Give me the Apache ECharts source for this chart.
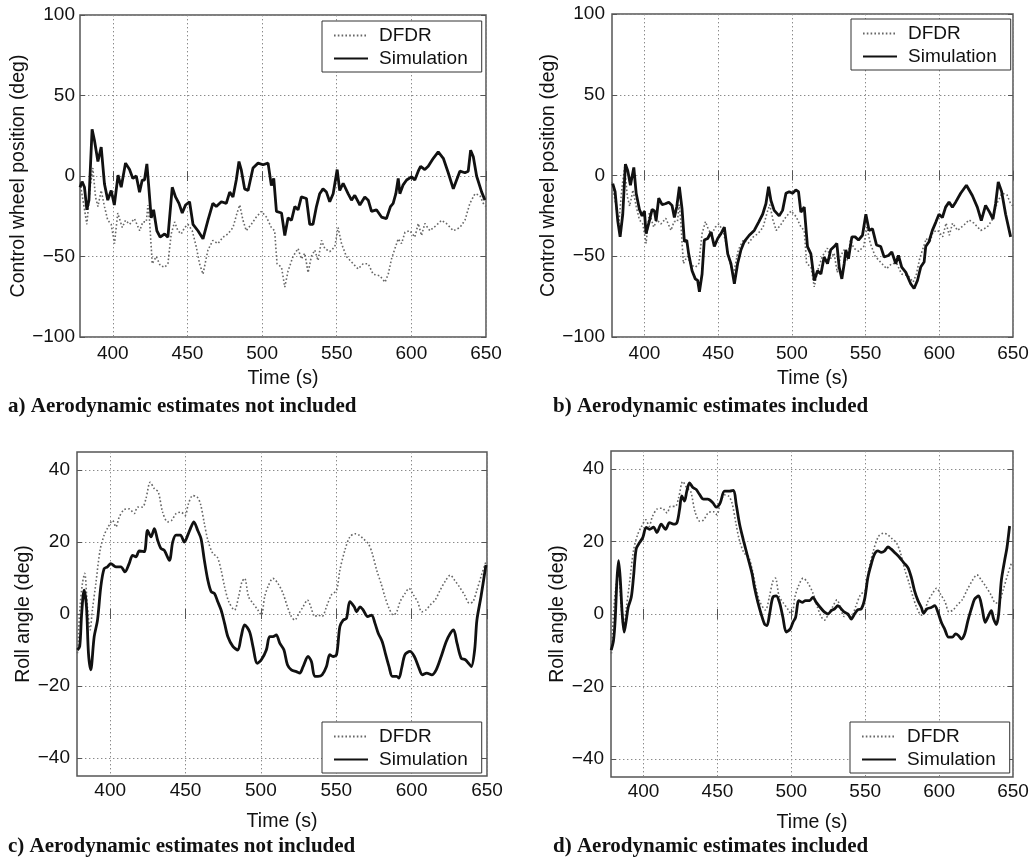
<!DOCTYPE html>
<html>
<head>
<meta charset="utf-8">
<script src="https://cdn.jsdelivr.net/npm/echarts@6/dist/echarts.min.js"></script>
<style>
    html, body { margin: 0; background: #fff; }
    #chart { width: 1036px; height: 861px; }
</style>
</head>
<body>
<div id="chart"></div>
<script>
    // tick values
    const timeTicks = [400, 450, 500, 550, 600, 650]
    const wheelTicks = [-100, -50, 0, 50, 100]
    const rollTicks = [-40, -20, 0, 20, 40]
    const seriesNames = ['DFDR', 'Simulation']
    const captions = [
        'a) Aerodynamic estimates not included',
        'b) Aerodynamic estimates included',
        'c) Aerodynamic estimates not included',
        'd) Aerodynamic estimates included'
    ]

    // control wheel position [time s, deg]
    const wheelDfdr = [[378, -4], [380, -15], [382.6, -30], [384.8, -7], [386.6, 5], [388.4, -13], [390, -19], [392.2, -9],
        [394.4, -19], [396.6, -27.5], [398.9, -30], [401.1, -42], [403.3, -23], [406.3, -32], [408.5, -27.5], [411.2, -30],
        [414.5, -26.5], [418, -34], [420.1, -28.5], [422.4, -28.5], [423.5, -18], [424.6, -27.5], [426.4, -54.5], [429.1, -50],
        [431.7, -55.6], [434.7, -56.7], [436.9, -54.5], [439.1, -36], [441.4, -28.5], [443.6, -34], [445.8, -36], [448.1, -32],
        [450.3, -30], [453.2, -34], [455.9, -44], [458.1, -54.5], [460.4, -61], [463.7, -46], [467, -40], [470.4, -42],
        [473.8, -38], [477.1, -36], [480.5, -32], [483.2, -23], [485, -18], [487.2, -27.5], [489.4, -34], [492.8, -30],
        [496.1, -25.5], [499.5, -22], [502.9, -25.5], [506.2, -32], [508.4, -34], [510, -54.5], [513, -56.7], [515.2, -69],
        [517.4, -59], [520.7, -50], [524.1, -45], [526.3, -51.5], [528.6, -48], [530.8, -60], [533, -50], [535.3, -46],
        [537.5, -52.5], [539.8, -40], [542, -45], [545.3, -47], [548.7, -44], [550.9, -32], [553.2, -42], [556.5, -50],
        [561, -54.5], [564.3, -57.7], [567.7, -54.5], [571.1, -54.5], [574.4, -61], [578.9, -62], [582.3, -66], [584.5, -61],
        [586.7, -51.5], [589, -45], [591.2, -39], [593.4, -42], [595.7, -35], [599, -34], [602.3, -38], [604.6, -29.5],
        [606.8, -37], [609, -29.5], [612.4, -34], [616.9, -30.5], [620.2, -27.5], [623.5, -29.5], [628.1, -34], [632.5, -32],
        [635.9, -27.5], [639.2, -17], [642.6, -11], [645.9, -12], [648.2, -17], [650, -19]]

    const wheelSimNoAero = [[378, -7], [379.4, -3.5], [381, -7], [382.6, -21], [384, -15], [386.1, 29], [387.7, 22], [390, 9],
        [392.2, 18], [394.4, -5], [396.6, -15], [398.9, -9], [401, -18], [403.5, 0.5], [405.6, -7], [408.5, 8], [411.2, 4],
        [413.4, -1.5], [415.7, 0], [417.9, -10], [419.7, -2.5], [421.2, -2.5], [422.8, 7.5], [424.1, -7], [425.7, -26],
        [427.3, -21], [429.5, -34], [431.7, -38], [434.7, -36], [436.9, -38], [439.8, -7], [442, -13], [444.3, -17],
        [446.5, -23], [448.7, -18], [451.4, -16], [453.7, -30], [457, -34], [460.4, -39], [463.7, -27.5], [467, -17],
        [469.3, -19], [472.7, -16], [476, -17], [478.3, -10], [480.5, -13], [482.7, -2.5], [484.5, 9], [486, 4], [488.3, -8],
        [490.6, -9], [493.9, 5], [497.3, 8], [500.6, 7], [504, 8], [506.2, -6], [507.8, -1.5], [509.6, -22], [513, -23],
        [515.2, -37], [517.4, -26], [519.7, -27.5], [521.9, -19], [524.1, -21], [526.3, -13], [529.7, -14], [531.9, -30],
        [534.1, -30], [536.4, -19], [538.6, -11], [540.8, -8], [543.1, -10], [545.3, -16], [547.6, -11], [550.3, 4], [552, -9],
        [554.3, -4.5], [557.6, -11], [559.9, -15], [562.1, -12], [565.5, -18], [568.8, -13], [571.1, -15], [573.3, -22],
        [576.6, -21], [580, -25.5], [583.3, -26.5], [586, -19], [587.8, -17], [589.6, -11], [591.2, -1.5], [592.3, -11],
        [594.5, -5.5], [596.8, -2.5], [600.1, -0.5], [602.3, -2.5], [604.6, 3], [606.2, 6], [609, 4], [611.3, 6], [614.7, 11],
        [618, 15], [621.4, 11], [624.7, 2], [628.1, -8], [630.3, -2.5], [632.5, 3], [635.9, 2], [638.1, 3], [639.7, 16],
        [641.5, 12], [643.7, 0], [647.1, -10], [649.3, -15]]

    const wheelSimAero = [[378.5, -5], [380.1, -10], [381.9, -28], [383.5, -38], [385.3, -24], [387.1, 7], [388.7, 3],
        [390.5, -6], [392.8, 5], [394.4, -11], [396.6, -21], [398.4, -25], [400, -22], [401.1, -36], [403.4, -28], [405.2, -21],
        [406.8, -22], [407.9, -28], [409.7, -14], [412, -18], [414.2, -17.5], [416.5, -16.5], [418.7, -18.5], [420.3, -26],
        [421.9, -19.5], [423.7, -7], [425.5, -20.6], [427.1, -41], [428.7, -40], [430, -48.5], [432.3, -59], [434.5, -64],
        [436.1, -65], [437.3, -72], [439.1, -61], [440.6, -40], [442.9, -39], [445.2, -35], [447.4, -44], [449.7, -39],
        [451.9, -36], [454.2, -32], [456.5, -48.5], [458.7, -54.6], [461, -67], [463.2, -54.6], [465.5, -46], [467.7, -41],
        [471.1, -37], [474.5, -34], [477.4, -29], [480.2, -24], [482.4, -17.5], [484.2, -7], [485.8, -15.5], [488, -21.6],
        [491.4, -25], [493.7, -21.6], [496, -11], [498.2, -10], [500.5, -11], [502.7, -9], [504.5, -10], [506.1, -22.7],
        [508.4, -19.6], [510.6, -44], [512.9, -48.5], [515.2, -65], [517.4, -59], [519.7, -61], [521.9, -50.5], [524.2, -54.6],
        [526.4, -46], [528.7, -44], [530.5, -42], [532.1, -56.7], [533.9, -64], [535.5, -54.6], [536.6, -46], [538.4, -51.5],
        [540.7, -38], [542.9, -38], [545.2, -40], [547.9, -37], [550.2, -24], [552.4, -34], [554.7, -33], [557.4, -43],
        [560.3, -44], [562.6, -50.5], [565.5, -49.5], [567.8, -47.4], [570.5, -54.6], [572.3, -49.5], [574.5, -56.7],
        [577.3, -60], [580.6, -67], [582.9, -70], [585.2, -65], [587.4, -56.7], [589.7, -53.6], [590.8, -44], [593, -41],
        [595.3, -34], [597.6, -29], [599.8, -24], [602.1, -26], [604.3, -19.6], [606.6, -16.5], [608.9, -19.6], [611.1, -16.5],
        [614.5, -11], [618.4, -6], [622.4, -12.4], [625.8, -19.6], [628.5, -28], [631.4, -18.5], [634.1, -22.7], [636.4, -27],
        [638.2, -17.5], [640, -4], [642.3, -10], [645, -24], [648.4, -38]]

    // roll angle [time s, deg]
    const rollDfdr = [[378.3, -10.9], [380, 2], [381.6, 8.5], [383.1, 11.3], [384.9, 2], [386.7, -4.4], [388.2, 1.1],
        [390.5, 8.5], [393.3, 17.7], [396, 21.9], [398.7, 24.2], [401.6, 26], [403.8, 24.2], [406, 26.9], [409.3, 29],
        [412.6, 29.2], [416, 27.9], [418.2, 29.7], [421.5, 29.7], [423.7, 32], [426.6, 36.6], [429.3, 34.8], [431.9, 33.9],
        [434.8, 28.3], [438.1, 25.6], [440.8, 26], [443.7, 27.9], [447, 28.3], [449.7, 27.4], [451.9, 30.6], [454.8, 32.9],
        [457.7, 32.5], [459.9, 30.6], [462.5, 25.1], [464.8, 20.5], [468.1, 16.8], [471, 15.9], [473.6, 12.2], [475.9, 7.6],
        [478.7, 3.4], [482.5, 1.1], [485.2, 4.8], [487.4, 8.9], [489.2, 9.9], [491.8, 4.8], [494.7, 3], [498, 1.1],
        [500.3, -0.3], [502.5, 4.8], [504.7, 7.6], [508, 9.9], [511.3, 8.5], [514.7, 5.7], [517.6, 2], [520.2, -0.7],
        [522.4, -1.7], [525.3, 0.2], [528, 2], [530.9, 3.9], [533.1, 2], [535.7, -0.7], [537.9, -0.3], [540.6, -0.7],
        [543.5, 2], [546.8, 5.3], [550.2, 6.6], [552.4, 12.2], [555.7, 17.7], [559, 21.4], [562.4, 22.3], [565.2, 21.9],
        [567.9, 20.9], [571.2, 19.6], [573.9, 16.8], [576.8, 12.2], [579.7, 8.5], [582.3, 4.8], [585, 1.6], [587.9, -0.3],
        [590.1, 0.6], [592.3, 3.4], [595.6, 5.7], [598.3, 7.1], [601.2, 5.3], [604, 3.4], [606.7, 0.6], [609.4, 1.1],
        [612.3, 2.5], [615.6, 3.9], [618.9, 6.6], [622.7, 9.4], [625.6, 10.8], [628.5, 9.4], [631.6, 7.6], [635.1, 5.3],
        [638.3, 3], [640.7, 3.4], [643.3, 6.6], [646.7, 11.3], [649.3, 14.5]]

    const rollSimNoAero = [[378.3, -10], [379.8, -9], [381.1, 0.2], [382.7, 6.6], [384.3, 2], [385.6, -10.9], [387.1, -15.5],
        [389.4, -6.3], [391.6, -1.7], [393.8, 7.6], [396, 12.6], [398.2, 13.1], [400.4, 14], [403.8, 13.1], [407.1, 13.1],
        [409.8, 11.7], [412.6, 14], [414.9, 16.3], [417.1, 15.9], [419.3, 17.5], [422.6, 17.3], [424.8, 23.2], [427.1, 21.4],
        [429.3, 23.7], [431.5, 20.5], [433.7, 18.2], [435.9, 17.7], [439.3, 14.9], [441.5, 20], [443.7, 21.9], [446.6, 21.9],
        [449.2, 20], [451.5, 21.9], [453.7, 24.2], [455.5, 25.6], [458.1, 23.2], [460.3, 20.9], [462.5, 14.9], [464.8, 9.4],
        [467, 6.2], [469.2, 5.7], [471.4, 3.4], [473.6, 1.1], [475.9, -2.6], [478.1, -6.3], [481.4, -9], [484.7, -10],
        [486.9, -6.3], [489.2, -3], [492.5, -4.9], [494.7, -9], [497.6, -13.7], [500.3, -12.7], [503.6, -10], [505.8, -6.3],
        [508, -6.3], [510.2, -5.8], [512.5, -8.1], [515.3, -10], [517.6, -14.1], [520.2, -15.5], [523.5, -16], [525.8, -16.4],
        [528, -14.6], [531.3, -11.8], [533.5, -13.2], [535.7, -17.3], [537.9, -17.3], [540.6, -16.9], [543.5, -14.6],
        [545.7, -11.3], [547.9, -11.8], [550.2, -11.3], [552.4, -3.5], [554.6, -1.7], [556.8, -1.2], [559, 3.4], [561.9, 2],
        [563.5, 0.6], [565.7, 2], [567.9, 1.1], [570.8, -0.7], [573.5, -0.3], [575.7, -2.6], [577.9, -5.4], [580.5, -7.7],
        [582.8, -11.3], [585, -14.6], [587.2, -17.3], [590.1, -17.3], [591.6, -17.8], [593.4, -15], [595.6, -11.3],
        [598.9, -10.4], [601.8, -11.8], [604.5, -14.6], [607.2, -16.9], [610, -16.4], [613.4, -16.9], [616.3, -15.5],
        [619.6, -11.8], [622.9, -7.7], [625.6, -5.4], [627.8, -4.4], [630.1, -8.1], [632.9, -12.3], [635.6, -12.7],
        [637.8, -13.7], [639.6, -14.6], [641.8, -10], [643.3, -1.7], [646, 4.8], [649.3, 13.6]]

    const rollSimAero = [[378.1, -10], [379.7, -7.3], [380.8, -1.8], [382, 9.2], [383.1, 14.7], [384.2, 10.1], [385.6, 0],
        [386.9, -5], [388.3, -1.8], [389.6, 1.8], [391.7, 4.6], [393.2, 10.1], [395, 17.9], [397.3, 19.7], [399.5, 21.1],
        [401.8, 23.9], [404.1, 23.4], [406.8, 24], [409, 22.5], [412, 24.8], [414.9, 23.4], [417.6, 25.2], [420.3, 24.8],
        [422.6, 25.2], [424.4, 28.9], [425.9, 32.6], [427.7, 31.2], [429.3, 33.9], [431.1, 36.2], [433.4, 34.9], [435.6, 34.4],
        [437.9, 33], [440.6, 31.7], [443.5, 31.7], [446.9, 30.7], [449.2, 29.5], [451.9, 30.7], [454.8, 33.9], [458.2, 33.9],
        [460.9, 34.1], [462.7, 30.3], [465, 24.8], [467.7, 20.2], [470.6, 15.6], [473.5, 11], [475.1, 7.3], [477.4, 3.2],
        [479.6, 0], [481.9, -2.8], [483.5, -3.2], [485.3, 0], [487.5, 4.6], [489.8, 5], [492, 3.2], [494.3, -0.9], [496.6, -5],
        [499.3, -4.1], [501.1, -2.3], [502.9, -0.9], [505.1, 3.7], [507.4, 3.2], [509.6, 3.7], [512.4, 3.7], [514.6, 4.6],
        [516.9, 3.2], [519.6, 1.8], [522.5, 0.5], [524.8, 0], [527, 0.9], [529.3, 1.4], [531.5, 2.3], [533.8, 1.4], [536, 0.5],
        [538.3, 0], [540.6, -1.4], [542.8, 0], [545.1, 1.2], [547.3, 1.4], [549.6, 4.1], [551.8, 10.1], [554.1, 13.8],
        [556.3, 16.5], [558.6, 17.4], [560.9, 17], [563.1, 17.4], [565.4, 18.5], [567.6, 17.9], [569.9, 17], [573.3, 15.6],
        [576, 14.2], [578.9, 12.8], [581.2, 10.1], [583.4, 6.4], [585.7, 3.7], [588, 1.8], [589.5, 0.2], [591.8, 1.4],
        [594.7, 1.8], [597, 2.3], [599.2, 0.5], [601.5, -2.3], [603.7, -4.1], [606.4, -6.4], [608.9, -6.4], [611.2, -5.5],
        [613.2, -6], [615, -6.9], [617.3, -5.5], [619.5, -1.8], [621.8, 1.4], [624, 4.1], [626.7, 5], [629, 1.8], [631.2, -2.3],
        [633, -0.9], [635.3, 0.9], [636.9, -1.4], [638.7, -2.9], [640.3, 0], [642.1, 9.2], [644.3, 14.7], [645.9, 18.3],
        [647.7, 24.3]]

    const FONT = '"Liberation Sans", Arial, Helvetica, sans-serif'
    const INK = '#111'
    const FRAME = '#555'

    // 每个子图的布局
    const panels = [
        {grid: [80, 15, 406, 322], y: [-100, 100], yTicks: wheelTicks, yName: 'Control wheel position (deg)',
            yGap: 45, yMargin: 5, xMargin: 7, xGap: 32, dfdr: wheelDfdr, sim: wheelSimNoAero, smooth: false,
            legend: [322, 21], caption: [8, 396]},
        {grid: [612, 14, 401, 323], y: [-100, 100], yTicks: wheelTicks, yName: 'Control wheel position (deg)',
            yGap: 51, yMargin: 7, xMargin: 7, xGap: 32, dfdr: wheelDfdr, sim: wheelSimAero, smooth: false,
            legend: [851, 19], caption: [553, 396]},
        {grid: [77, 452, 410, 324], y: [-45, 45], yTicks: rollTicks, yName: 'Roll angle (deg)',
            yGap: 42, yMargin: 7, xMargin: 5, xGap: 36, dfdr: rollDfdr, sim: rollSimNoAero, smooth: 0.3,
            legend: [322, 722], caption: [8, 836]},
        {grid: [611, 451, 402, 326], y: [-45, 45], yTicks: rollTicks, yName: 'Roll angle (deg)',
            yGap: 42, yMargin: 7, xMargin: 5, xGap: 36, dfdr: rollDfdr, sim: rollSimAero, smooth: 0.3,
            legend: [850, 722], caption: [553, 836]}
    ]

    const minus = v => String(v).replace('-', '\u2212')
    const gridLine = {show: true, lineStyle: {color: '#8a8a8a', width: 1, type: [1.4, 2.6]}}
    const tick = (values) => ({show: true, inside: true, length: 5, customValues: values, lineStyle: {color: FRAME, width: 1}})

    const option = {
        animation: false,
        backgroundColor: '#fff',
        grid: [],
        xAxis: [],
        yAxis: [],
        series: [],
        legend: [],
        graphic: []
    }

    panels.forEach((p, i) => {
        option.grid.push({
            left: p.grid[0], top: p.grid[1], width: p.grid[2], height: p.grid[3],
            show: true, borderColor: FRAME, borderWidth: 1.5, backgroundColor: 'transparent'
        })
        // bottom + mirrored top x axis
        option.xAxis.push({
            type: 'value', gridIndex: i, min: 378, max: 650, position: 'bottom',
            name: 'Time (s)', nameLocation: 'middle', nameGap: p.xGap,
            nameTextStyle: {fontFamily: FONT, fontSize: 19.5, color: INK},
            axisLine: {show: false},
            axisTick: tick(timeTicks),
            axisLabel: {customValues: timeTicks, margin: p.xMargin, fontFamily: FONT, fontSize: 19, color: INK},
            splitLine: gridLine
        })
        option.xAxis.push({
            type: 'value', gridIndex: i, min: 378, max: 650, position: 'top',
            axisLine: {show: false}, axisTick: tick(timeTicks), axisLabel: {show: false}, splitLine: {show: false}
        })
        option.yAxis.push({
            type: 'value', gridIndex: i, min: p.y[0], max: p.y[1], position: 'left',
            name: p.yName, nameLocation: 'middle', nameGap: p.yGap,
            nameTextStyle: {fontFamily: FONT, fontSize: 19.5, color: INK},
            axisLine: {show: false},
            axisTick: tick(p.yTicks),
            axisLabel: {customValues: p.yTicks, margin: p.yMargin, fontFamily: FONT, fontSize: 19, color: INK, formatter: minus},
            splitLine: gridLine
        })
        option.yAxis.push({
            type: 'value', gridIndex: i, min: p.y[0], max: p.y[1], position: 'right',
            axisLine: {show: false}, axisTick: tick(p.yTicks), axisLabel: {show: false}, splitLine: {show: false}
        })

        option.series.push({
            name: seriesNames[0], type: 'line', xAxisIndex: i * 2, yAxisIndex: i * 2,
            data: p.dfdr, showSymbol: false, symbol: 'none', smooth: p.smooth,
            lineStyle: {color: '#666', width: 1.6, type: [1.6, 2.2]}, itemStyle: {color: '#666'}
        })
        option.series.push({
            name: seriesNames[1], type: 'line', xAxisIndex: i * 2, yAxisIndex: i * 2,
            data: p.sim, showSymbol: false, symbol: 'none', smooth: p.smooth,
            lineStyle: {color: '#111', width: 2.8}, itemStyle: {color: '#111'}
        })

        option.legend.push({
            data: seriesNames, orient: 'vertical', left: p.legend[0], top: p.legend[1],
            backgroundColor: '#fff', borderColor: '#333', borderWidth: 1, borderRadius: 0,
            padding: [5, 14, 4, 11], itemGap: 4, itemWidth: 34, itemHeight: 18,
            selectedMode: false,
            // 只保留线段图例，隐藏圆点
            itemStyle: {opacity: 0, borderWidth: 0},
            textStyle: {fontFamily: FONT, fontSize: 19, color: INK, padding: [0, 0, 0, 6], lineHeight: 18}
        })

        option.graphic.push({
            type: 'text', left: p.caption[0], top: p.caption[1],
            style: {text: captions[i], font: 'bold 21px "Liberation Serif", "Times New Roman", serif', fill: '#111'}
        })
    })

    const chart = echarts.init(document.getElementById('chart'), null, {renderer: 'canvas'})
    chart.setOption(option)
</script>
</body>
</html>
